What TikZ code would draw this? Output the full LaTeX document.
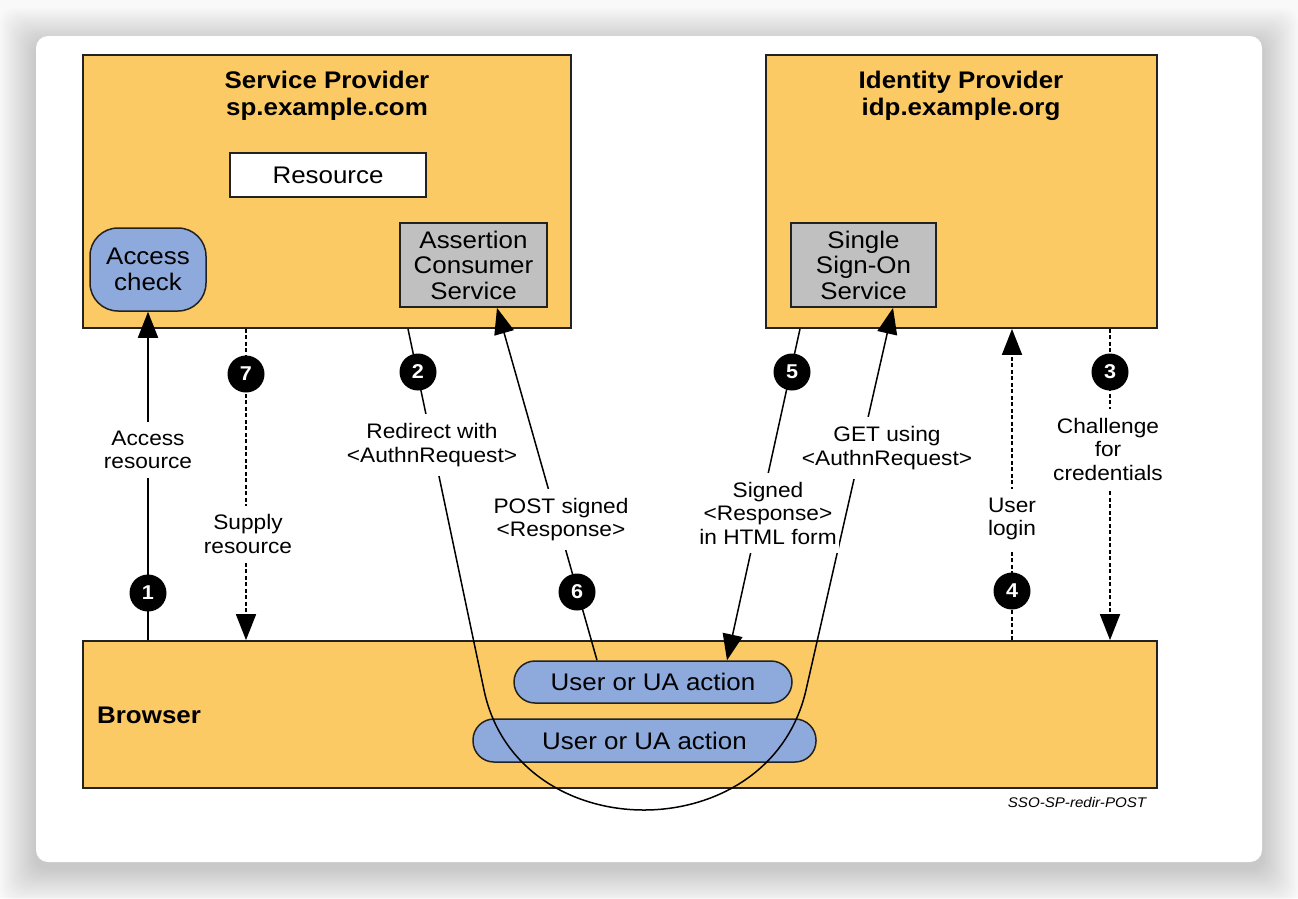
\documentclass[tikz,border=0pt]{standalone}
\usepackage{fontspec}
\setmainfont{Liberation Sans}[FakeStretch=1.08]
\usetikzlibrary{arrows.meta}
\definecolor{boxorange}{HTML}{FBCA64}
\definecolor{boxblue}{HTML}{8EA9DB}
\definecolor{boxgray}{HTML}{C0C0C0}
\definecolor{bggray}{HTML}{F9F9F9}
\definecolor{edgedark}{HTML}{222222}
\tikzset{
  party/.style={draw=edgedark, line width=1.8pt, fill=boxorange, inner sep=0pt},
  plainbox/.style={draw=edgedark, line width=1.8pt, fill=white, inner sep=0pt, font=\fontsize{24}{25.5}\selectfont},
  servbox/.style={draw=edgedark, line width=1.8pt, fill=boxgray, inner sep=0pt, align=center, font=\fontsize{24}{25.5}\selectfont},
  actbox/.style={draw=edgedark, line width=1.5pt, fill=boxblue, inner sep=0pt, align=center, font=\fontsize{24}{25.5}\selectfont},
  titletext/.style={align=center, inner sep=0pt, font=\bfseries\fontsize{24}{27}\selectfont},
  numdot/.style={circle, fill=black, text=white, inner sep=0pt, minimum size=37pt, font=\bfseries\fontsize{20}{20}\selectfont},
  elabel/.style={fill=white, align=center, inner xsep=2pt, inner ysep=9pt, font=\fontsize{21}{23.5}\selectfont},
  solidline/.style={line width=1.8pt, draw=black},
  dashline/.style={line width=1.8pt, draw=black, dash pattern=on 4pt off 2.5pt},
  thinline/.style={line width=1.5pt, draw=black},
  arrowend/.style={-{Triangle[length=26pt,width=20pt]}}
}
\begin{document}
\begin{tikzpicture}[x=1pt,y=-1pt]
\useasboundingbox (0,0) rectangle (1298,898);
\fill[bggray] (0,0) rectangle (1298,898);
% card shadow (soft, slightly below the card)
\foreach \d in {1.5,3,...,36}{
  \fill[black, opacity=0.009, rounded corners=14pt] (36-\d,36-\d+8) rectangle (1262+\d,862+\d+6);
}
\fill[white, rounded corners=12pt] (36,36) rectangle (1262,862);

% parties
\node[party, minimum width=488pt, minimum height=273pt] (sp) at (327,191.5) {};
\node[party, minimum width=391pt, minimum height=273pt] (idp) at (961.5,191.5) {};
\node[party, minimum width=1074pt, minimum height=147pt] (br) at (620,714.5) {};

\node[titletext] (sptitle) at (327,96) {Service Provider\\sp.example.com};
\node[titletext] (idptitle) at (961,96) {Identity Provider\\idp.example.org};
\node[font=\bfseries\fontsize{24}{27}\selectfont, anchor=west, inner sep=0pt] (brtitle) at (97,715) {Browser};

\node[plainbox, minimum width=196pt, minimum height=44pt] (res) at (328,175) {Resource};
\node[actbox, rounded corners=28pt, minimum width=116pt, minimum height=83pt] (ac) at (148,269.5) {Access\\check};
\node[servbox, minimum width=147pt, minimum height=84pt] (acs) at (473.5,265) {Assertion\\Consumer\\Service};
\node[servbox, minimum width=145pt, minimum height=84pt] (sso) at (863.5,265) {Single\\Sign-On\\Service};

\node[actbox, rounded corners=21pt, minimum width=278pt, minimum height=42pt] (ua1) at (653,682) {User or UA action};
\node[actbox, rounded corners=21pt, minimum width=343pt, minimum height=43pt] (ua2) at (644.5,740.5) {User or UA action};

% x positions of connectors
\coordinate (x1) at (148,0);
\coordinate (x7) at (246,0);
\coordinate (x2) at (408,0);
\coordinate (x6a) at (597,0);
\coordinate (x6b) at (497,0);
\coordinate (x5a) at (800,0);
\coordinate (x5b) at (727,0);
\coordinate (xg) at (893,0);
\coordinate (x4) at (1012,0);
\coordinate (x3) at (1110,0);
\coordinate (u1) at (484,690);
\coordinate (u2) at (806,690);

% connectors
\draw[solidline, arrowend] (br.north -| x1) -- (ac.south);
\draw[dashline, arrowend] (sp.south -| x7) -- (br.north -| x7);
\draw[thinline, arrowend] (sp.south -| x2) -- (u1) .. controls (517.6,850) and (769.5,850) .. (u2) -- (sso.south -| xg);
\draw[thinline, arrowend] (ua1.north -| x6a) -- (acs.south -| x6b);
\draw[thinline, arrowend] (idp.south -| x5a) -- (ua1.north -| x5b);
\draw[dashline, arrowend] (br.north -| x4) -- (idp.south -| x4);
\draw[dashline, arrowend] (idp.south -| x3) -- (br.north -| x3);

% labels
\node[elabel] (l1) at (148,450) {Access\\resource};
\node[elabel] (l7) at (248,534) {Supply\\resource};
\node[elabel] (l2) at (432,445) {Redirect with\\<AuthnRequest>};
\node[elabel] (l6) at (561,519.5) {POST signed\\<Response>};
\node[elabel] (l5) at (768,513) {Signed\\<Response>\\in HTML form};
\node[elabel] (lg) at (887,448) {GET using\\<AuthnRequest>};
\node[elabel] (l4) at (1012,519) {User\\login};
\node[elabel] (l3) at (1108,449) {Challenge\\for\\credentials};

% step numbers
\node[numdot] (n1) at (148,593) {1};
\node[numdot] (n7) at (246,374) {7};
\node[numdot] (n2) at (418,372) {2};
\node[numdot] (n6) at (577,592) {6};
\node[numdot] (n5) at (792,372) {5};
\node[numdot] (n4) at (1012,591) {4};
\node[numdot] (n3) at (1110,372) {3};

\node[font=\itshape\fontsize{14}{14}\selectfont, inner sep=0pt] (cap) at (1077,802) {SSO-SP-redir-POST};
\end{tikzpicture}
\end{document}
